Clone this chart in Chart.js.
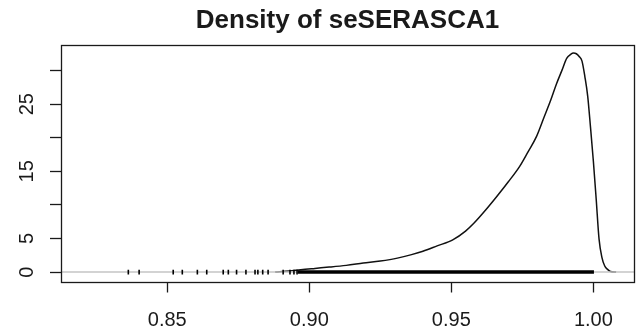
<!DOCTYPE html>
<html>
<head>
<meta charset="utf-8">
<script src="https://cdn.jsdelivr.net/npm/chart.js@4/dist/chart.umd.min.js"></script>
<style>
  html, body { margin: 0; padding: 0; background: #ffffff; }
  #wrap { width: 642px; height: 336px; }
</style>
</head>
<body>
<div id="wrap"><canvas id="c" width="642" height="336"></canvas></div>
<script>
// ---- data ----
const chartTitle = 'Density of seSERASCA1';
const densityX = [0.888, 0.893, 0.897, 0.902, 0.907, 0.913, 0.919, 0.925, 0.931, 0.936, 0.940, 0.945, 0.9505, 0.955, 0.958, 0.962, 0.966, 0.970, 0.974, 0.977, 0.980, 0.9825, 0.985, 0.987, 0.989, 0.9906, 0.992, 0.993, 0.994, 0.995, 0.996, 0.997, 0.998, 0.999, 1.000, 1.001, 1.002, 1.003, 1.004, 1.005, 1.006, 1.008];
const densityY = [0.0, 0.15, 0.35, 0.55, 0.74, 1.0, 1.34, 1.65, 2.08, 2.6, 3.1, 3.9, 4.8, 6.1, 7.3, 9.2, 11.25, 13.4, 15.7, 17.9, 20.2, 22.9, 25.6, 28.0, 30.1, 31.8, 32.4, 32.6, 32.5, 32.1, 31.4, 29.1, 26.2, 21.5, 16.5, 10.8, 4.9, 2.2, 0.9, 0.4, 0.1, 0.0];
// individual rug marks (sparse left tail)
const rugValues = [0.8363, 0.8401, 0.8521, 0.8553, 0.8606, 0.8639, 0.8697, 0.8715, 0.8744, 0.8777, 0.8809, 0.8819, 0.8836, 0.8855, 0.8908, 0.8932, 0.8946, 0.8957];
// range where rug marks are so dense they merge into a solid bar
const rugDenseRange = [0.896, 1.0002];
const xRange = [0.8126, 1.0143];
const yRange = [-1.4, 33.8];
const xTickValues = [0.85, 0.90, 0.95, 1.00];
const xTickLabels = ['0.85', '0.90', '0.95', '1.00'];
const yTickValues = [0, 5, 10, 15, 20, 25, 30];
const yTickLabels = ['0', '5', '', '15', '', '25', ''];

const FONT = "'Liberation Sans', Arial, Helvetica, sans-serif";
const INK = '#1a1a1a';

const curvePts = densityX.map((x, i) => ({ x, y: densityY[i] }));
const rugPts = rugValues.map(x => ({ x, y: 0 }));

const boxPlugin = {
  id: 'box',
  afterDraw(chart) {
    const { ctx, chartArea: a } = chart;
    ctx.save();
    ctx.strokeStyle = INK;
    ctx.lineWidth = 1.3;
    ctx.strokeRect(Math.round(a.left) + 0.5, Math.round(a.top) + 0.5,
                   Math.round(a.right - a.left), Math.round(a.bottom - a.top));
    // title centred over the plot region (R style)
    ctx.fillStyle = INK;
    ctx.font = 'bold 26px ' + FONT;
    ctx.textAlign = 'center';
    ctx.textBaseline = 'alphabetic';
    ctx.fillText(chartTitle, (a.left + a.right) / 2, 27.5);
    // rotated y tick labels (R style)
    const ys = chart.scales.y;
    ctx.font = '20px ' + FONT;
    yTickValues.forEach((v, i) => {
      const lab = yTickLabels[i];
      if (!lab) return;
      const py = ys.getPixelForValue(v);
      ctx.save();
      ctx.translate(33, py);
      ctx.rotate(-Math.PI / 2);
      ctx.fillText(lab, 0, 0);
      ctx.restore();
    });
    ctx.restore();
  }
};

new Chart(document.getElementById('c'), {
  type: 'line',
  data: {
    datasets: [
      { // dense rug bar
        data: [{ x: rugDenseRange[0], y: 0 }, { x: rugDenseRange[1], y: 0 }],
        borderColor: '#000', borderWidth: 3.5, pointRadius: 0, order: 0, borderCapStyle: 'butt'
      },
      { // sparse rug marks
        type: 'scatter',
        data: rugPts, showLine: false,
        pointStyle: 'line', rotation: 90, pointRadius: 2.4,
        borderColor: '#000', borderWidth: 1.6, backgroundColor: '#000', order: 1
      },
      { // zero line
        data: [{ x: xRange[0], y: 0 }, { x: xRange[1], y: 0 }],
        borderColor: '#c4c4c4', borderWidth: 1.5, pointRadius: 0, order: 2
      },
      { // density curve
        data: curvePts,
        borderColor: '#111', borderWidth: 1.5, pointRadius: 0,
        cubicInterpolationMode: 'monotone', order: 3
      }
    ]
  },
  options: {
    responsive: false,
    animation: false,
    devicePixelRatio: 1,
    layout: { padding: { left: 0, right: 8, top: 45, bottom: 0 } },
    plugins: {
      legend: { display: false },
      tooltip: { enabled: false },
      title: { display: false }
    },
    scales: {
      x: {
        type: 'linear', min: xRange[0], max: xRange[1],
        border: { display: false },
        grid: { drawOnChartArea: false, drawTicks: true, tickLength: 11, tickColor: INK, tickWidth: 1.3 },
        afterBuildTicks(s) { s.ticks = xTickValues.map(v => ({ value: v })); },
        afterFit(s) { s.height = 54.5; },
        ticks: {
          color: INK, padding: 16, maxRotation: 0, autoSkip: false,
          font: { family: FONT, size: 20 },
          callback(v) { const i = xTickValues.findIndex(t => Math.abs(t - v) < 1e-9); return i >= 0 ? xTickLabels[i] : ''; }
        }
      },
      y: {
        type: 'linear', min: yRange[0], max: yRange[1],
        border: { display: false },
        grid: { drawOnChartArea: false, drawTicks: true, tickLength: 11, tickColor: INK, tickWidth: 1.3 },
        afterBuildTicks(s) { s.ticks = yTickValues.map(v => ({ value: v })); },
        afterFit(s) { s.width = 61; },
        ticks: {
          color: 'rgba(0,0,0,0)', font: { family: FONT, size: 20 },
          callback(v) { const i = yTickValues.indexOf(v); return i >= 0 ? yTickLabels[i] : ''; }
        }
      }
    }
  },
  plugins: [boxPlugin]
});
</script>
</body>
</html>
